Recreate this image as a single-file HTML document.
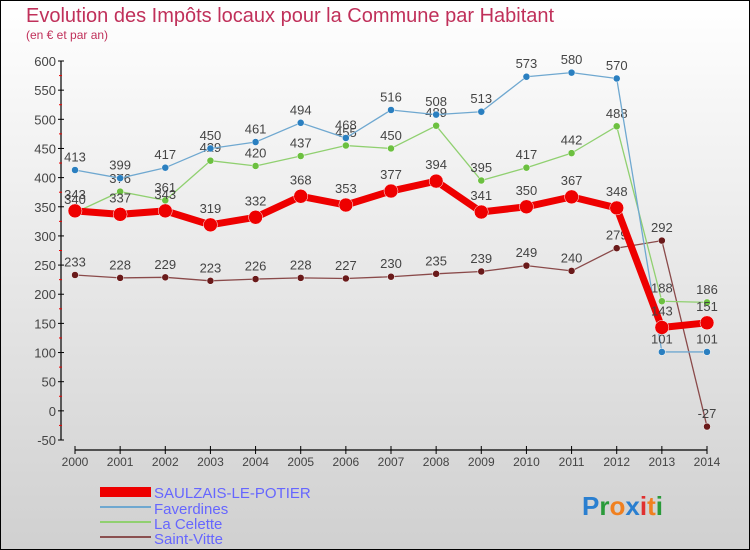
<!DOCTYPE html>
<html><head><meta charset="utf-8"><style>
body{margin:0}
#c{width:750px;height:550px;position:relative;overflow:hidden;font-family:"Liberation Sans",sans-serif}
</style></head><body>
<div id="c">
<svg id="s" width="750" height="550" xmlns="http://www.w3.org/2000/svg">
<defs><linearGradient id="bg" x1="0" y1="0" x2="0" y2="1"><stop offset="0" stop-color="#ffffff"/><stop offset="1" stop-color="#d0d0d0"/></linearGradient></defs>
<rect x="0.5" y="0.5" width="749" height="549" fill="url(#bg)" stroke="#000"/>
<text x="26" y="22" font-size="20" fill="#c0305a">Evolution des Impôts locaux pour la Commune par Habitant</text>
<text x="26" y="39" font-size="12" fill="#c0305a">(en € et par an)</text>
<g id="axes"></g><g id="series"></g>
<g>
<rect x="100" y="487" width="51" height="10" fill="#ee0000"/>
<text x="154" y="498" font-size="15" fill="#6666ff">SAULZAIS-LE-POTIER</text>
<rect x="100" y="506" width="51" height="2" fill="#6fa8d0"/>
<text x="154" y="514" font-size="15" fill="#6666ff">Faverdines</text>
<rect x="100" y="521" width="51" height="2" fill="#90d070"/>
<text x="154" y="529" font-size="15" fill="#6666ff">La Celette</text>
<rect x="100" y="536" width="51" height="2" fill="#8a5050"/>
<text x="154" y="544" font-size="15" fill="#6666ff">Saint-Vitte</text>
</g>
<text x="582" y="515" font-size="26" font-weight="bold"><tspan fill="#2a7fd0">P</tspan><tspan fill="#2a9a3a">r</tspan><tspan fill="#f08020">o</tspan><tspan fill="#2a7fd0">x</tspan><tspan fill="#e03030">i</tspan><tspan fill="#f08020">t</tspan><tspan fill="#2a9a3a">i</tspan></text>
</svg>
</div>
<script>
const years=[2000,2001,2002,2003,2004,2005,2006,2007,2008,2009,2010,2011,2012,2013,2014];
const saulzais=[343,337,343,319,332,368,353,377,394,341,350,367,348,143,151];
const faverdines=[413,399,417,450,461,494,468,516,508,513,573,580,570,101,101];
const laCelette=[340,376,361,429,420,437,455,450,489,395,417,442,488,188,186];
const saintVitte=[233,228,229,223,226,228,227,230,235,239,249,240,279,292,-27];
const yTicks=[600,550,500,450,400,350,300,250,200,150,100,50,0,-50];
const NS="http://www.w3.org/2000/svg";
function x(i){return 75+i*(707-75)/(years.length-1);}
function y(v){return 61+(600-v)*(440-61)/650;}
function mk(tag,attrs,parent){const e=document.createElementNS(NS,tag);for(const k in attrs)e.setAttribute(k,attrs[k]);parent.appendChild(e);return e;}
const ax=document.getElementById('axes'),sg=document.getElementById('series');
let a=mk('line',{x1:61,y1:61,x2:61,y2:440,stroke:'#000','stroke-width':1.2},ax);


yTicks.forEach(v=>{
 mk('line',{x1:58,y1:y(v),x2:64,y2:y(v),stroke:'#000'},ax);
 if(v>-50)mk('line',{x1:59,y1:y(v-25),x2:62,y2:y(v-25),stroke:'#e00'},ax);
 const t=mk('text',{x:56,y:y(v)+5,'text-anchor':'end','font-size':13,fill:'#444'},ax);
 t.textContent=v;
 
 
});
let b=mk('line',{x1:75,y1:450,x2:707,y2:450,stroke:'#000','stroke-width':1.2},ax);


years.forEach((yr,i)=>{
 mk('line',{x1:x(i),y1:446,x2:x(i),y2:454,stroke:'#000'},ax);
 const t=mk('text',{x:x(i),y:466,'text-anchor':'middle','font-size':12,fill:'#444'},ax);
 t.textContent=yr;
 
 
});
function series(vals,color,dot,w,r,name){
 const g=mk('g',{},sg);
 
 
 const p=mk('polyline',{points:vals.map((v,i)=>x(i)+','+y(v)).join(' '),fill:'none',stroke:color,'stroke-width':w,'stroke-linejoin':'round'},g);
 
 
 vals.forEach((v,i)=>{
  const c=mk('circle',{cx:x(i),cy:y(v),r:r,fill:dot,stroke:'#fff','stroke-width':0.5},g);
  
  
  const t=mk('text',{x:x(i),y:y(v)-r-5,'text-anchor':'middle','font-size':13,fill:'#444'},g);
  t.textContent=v;
  
  
 });
}
series(saintVitte,'#8a4a4a','#6a1a1a',1.3,3.5,'saint-vitte');
series(laCelette,'#90d070','#6cc040',1.3,3.5,'la-celette');
series(faverdines,'#6fa8d0','#2a7fc0',1.3,3.5,'faverdines');
series(saulzais,'#ee0000','#ee0000',7,7,'saulzais');
</script>
</body></html>
